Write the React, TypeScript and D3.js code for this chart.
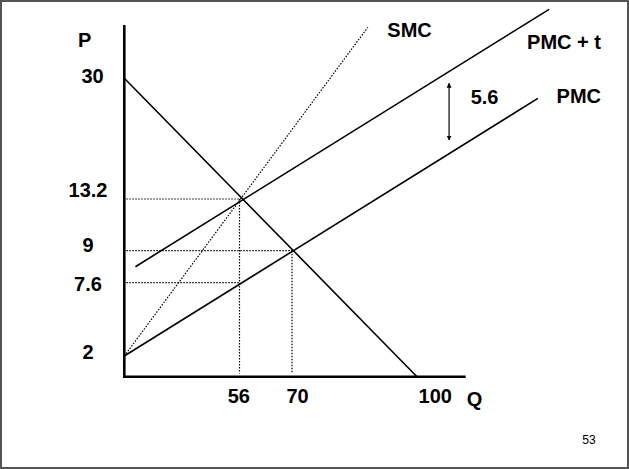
import React from "react";
import * as d3 from "d3";

// ---- data (values read from the schematic) ----
const qTicks = [56, 70, 100];
const pTicks = [2, 7.6, 9, 13.2, 30];
const qTickLabels = ["56", "70", "100"];
const pTickLabels = ["2", "7.6", "9", "13.2", "30"];

const demandQ = [0, 100];
const demandP = [30, 0];
const pmcQ = [0, 129];
const pmcP = [2, 27.2];
const pmcTaxQ = [5.4, 131.7];
const pmcTaxP = [8.3, 39.6];
const smcQ = [0, 88.2];
const smcP = [2, 37.1];

// guide lines: [Q, P] of each equilibrium point
const guideHQ = [56, 70, 56];
const guideHP = [13.2, 9, 7.6];
const guideVQ = [56, 70];
const guideVP = [13.2, 9];

const taxQ = 107.7;
const taxP = [21.4, 29.3];
const taxLabel = "5.6";
const pageNumber = "53";

const W = 629;
const H = 469;
const FONT = "'Liberation Sans', Arial, Helvetica, sans-serif";

export default function App() {
  // schematic (non-proportional) scales, as in the original sketch
  const x = d3.scaleLinear().domain([0, 56, 70, 100]).range([124.3, 239.5, 292, 417]);
  const y = d3.scaleLinear().domain([0, 2, 7.6, 9, 13.2, 30]).range([376.7, 356, 282.7, 250.7, 199, 78.3]);

  const line = d3
    .line<[number, number]>()
    .x((d) => x(d[0]))
    .y((d) => y(d[1]));
  const pts = (qs: number[], ps: number[]) => qs.map((q, i) => [q, ps[i]] as [number, number]);

  const yLabelDx: Record<string, number> = { "30": 4.5 };
  const yLabelDy: Record<string, number> = { "30": 5, "13.2": -2.3, "9": 1, "7.6": 8, "2": 3 };
  const xLabelDx: Record<string, number> = { "56": -0.7, "70": 5.5, "100": 18.3 };

  const x0 = x(0);
  const yBase = y(0);

  return (
    <svg
      width={W}
      height={H}
      style={{ position: "absolute", left: 0, top: 0, background: "#fff" }}
      fontFamily={FONT}
    >
      <defs>
        <marker id="ah" viewBox="0 0 10 10" refX="9" refY="5" markerWidth="5" markerHeight="6" orient="auto-start-reverse" markerUnits="userSpaceOnUse">
          <path d="M0,0 L10,5 L0,10 z" fill="#000" />
        </marker>
      </defs>
      {/* slide frame */}
      <rect x={1} y={1} width={W - 2} height={H - 2} fill="none" stroke="#555" strokeWidth={2} />

      {/* dotted guide lines */}
      {guideHQ.map((q, i) => (
        <line key={"h" + i} x1={x0 + 2} x2={x(q)} y1={y(guideHP[i])} y2={y(guideHP[i])} stroke="#000" strokeWidth={1.2} strokeDasharray="1.5 1.5" />
      ))}
      {guideVQ.map((q, i) => (
        <line key={"v" + i} x1={x(q)} x2={x(q)} y1={y(guideVP[i])} y2={y(0.3)} stroke="#000" strokeWidth={1.2} strokeDasharray="1.5 1.5" />
      ))}

      {/* SMC dotted */}
      <path d={line(pts(smcQ, smcP)) || ""} fill="none" stroke="#000" strokeWidth={1.2} strokeDasharray="1.5 1.5" />

      {/* curves */}
      <path d={line(pts(demandQ, demandP)) || ""} fill="none" stroke="#000" strokeWidth={1.6} />
      <path d={line(pts(pmcQ, pmcP)) || ""} fill="none" stroke="#000" strokeWidth={1.6} />
      <path d={line(pts(pmcTaxQ, pmcTaxP)) || ""} fill="none" stroke="#000" strokeWidth={1.6} />

      {/* axes */}
      <line x1={x0} x2={x0} y1={25} y2={yBase + 1.3} stroke="#000" strokeWidth={2.6} />
      <line x1={x0 - 1.3} x2={465.7} y1={yBase} y2={yBase} stroke="#000" strokeWidth={2.6} />

      {/* tax arrow */}
      <line x1={x(taxQ)} x2={x(taxQ)} y1={y(taxP[0])} y2={y(taxP[1])} stroke="#000" strokeWidth={1.2} markerStart="url(#ah)" markerEnd="url(#ah)" />

      {/* tick labels */}
      <g fontSize={20} fontWeight="bold" fill="#000">
        {pTicks.map((p, i) => (
          <text key={"pl" + i} x={88 + (yLabelDx[pTickLabels[i]] || 0)} y={y(p) + (yLabelDy[pTickLabels[i]] || 0)} textAnchor="middle">
            {pTickLabels[i]}
          </text>
        ))}
        {qTicks.map((q, i) => (
          <text key={"ql" + i} x={x(q) + (xLabelDx[qTickLabels[i]] || 0)} y={403.3} textAnchor="middle">
            {qTickLabels[i]}
          </text>
        ))}
        <text x={78} y={46.7}>P</text>
        <text x={466.7} y={406}>Q</text>
        <text x={387.3} y={37.3}>SMC</text>
        <text x={601} y={49.3} textAnchor="end">PMC + t</text>
        <text x={601} y={103.3} textAnchor="end">PMC</text>
        <text x={470.7} y={104}>{taxLabel}</text>
      </g>
      <text x={582.3} y={444} fontSize={12} fill="#000">{pageNumber}</text>
    </svg>
  );
}
